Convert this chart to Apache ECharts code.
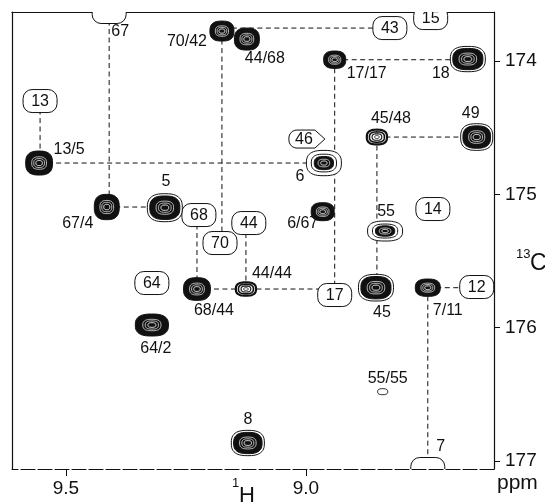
<!DOCTYPE html>
<html><head><meta charset="utf-8">
<script src="https://cdn.jsdelivr.net/npm/echarts@6/dist/echarts.min.js"></script>
<style>html,body{margin:0;padding:0;background:#fff}#c{width:545px;height:504px}</style>
</head><body><div id="c"></div>
<script>
// ---- Data (ppm) ----
const xTicks = [9.5, 9.0];            // 1H ppm
const yTicks = [174, 175, 176, 177];  // 13C ppm
const xRange = [8.608, 9.6125];
const yRange = [173.632, 177.06];

// cross peaks
const peakNames = ['13/5','67/4','5','70/42','44/68','17/17','18','45/48','49','6','6/67','55','68/44','44/44','45','7/11','64/2','55/55','8'];
const peakH = [9.556, 9.415, 9.294, 9.175, 9.123, 8.940, 8.6625, 8.852, 8.644, 8.9625, 8.965, 8.835, 9.227, 9.125, 8.854, 8.746, 9.321, 8.840, 9.121];
const peakC = [174.765, 175.095, 175.10, 173.775, 173.835, 173.99, 173.985, 174.57, 174.57, 174.765, 175.13, 175.275, 175.71, 175.71, 175.70, 175.70, 175.98, 176.48, 176.865];
// contour extent (ppm)
const peakWidthH = [0.056, 0.052, 0.073, 0.050, 0.052, 0.046, 0.073, 0.042, 0.067, 0.073, 0.048, 0.073, 0.056, 0.042, 0.073, 0.052, 0.069, 0.021, 0.069];
const peakWidthC = [0.18, 0.19, 0.21, 0.15, 0.165, 0.13, 0.19, 0.11, 0.20, 0.19, 0.135, 0.15, 0.17, 0.10, 0.20, 0.13, 0.165, 0.045, 0.19];
// contour level count: 0 single, 1 weak rings, 2 filled, 3 filled + halo, 4 small core + wide halo
const peakLevel = [2, 2, 3, 2, 2, 2, 3, 1, 3, 4, 2, 4, 2, 1, 3, 2, 2, 0, 3];

// assignment boxes
const boxNames = ['13','67','43','15','46','14','68','44','70','64','17','12','7'];
const boxH = [9.554, 9.410, 8.825, 8.740, 9.000, 8.7354, 9.223, 9.119, 9.179, 9.321, 8.940, 8.644, 8.746];
const boxC = [174.30, 173.632, 173.7525, 173.6775, 174.585, 175.11, 175.155, 175.215, 175.365, 175.665, 175.755, 175.695, 177.06];

// connectivity (from, to, direction); '#' marks a box
const connections = [
  ['#13','13/5','v'], ['13/5','6','h'], ['#67','67/4','v'], ['67/4','5','h'],
  ['70/42','#70','v'], ['#43','70/42','h'], ['44/44','#44','v'], ['68/44','#68','v'],
  ['68/44','#17','h'], ['17/17','#17','v'], ['17/17','18','h'], ['45/48','49','h'],
  ['45/48','45','v'], ['7/11','#12','h'], ['7/11','#7','v']
];

// ---- styling ----
const labelOffset = {
  '13/5':[30,-13], '67/4':[-29,17], '5':[1,-26], '70/42':[-35,11], '44/68':[18,20],
  '17/17':[32,14], '18':[-27,15], '45/48':[14,-18], '49':[-6,-23], '6':[-24,14],
  '6/67':[-20,12], '55':[1,-19], '68/44':[17,22], '44/44':[26,-15], '45':[6,25],
  '7/11':[20,23], '64/2':[4,24], '55/55':[5,-13], '8':[0,-23]
};
const boxTextOffset = { '67':[11,19], '7':[13,-23] };
const tagBoxes = { '46': true };
const FONT = '16px "Liberation Sans", Arial, sans-serif';
const NARROW = '"Liberation Sans Narrow", "Arial Narrow", "Liberation Sans", Arial, sans-serif';

const pos = {};
peakNames.forEach((n,i)=>pos[n]=[peakH[i], peakC[i]]);
boxNames.forEach((n,i)=>pos['#'+n]=[boxH[i], boxC[i]]);

const segData = connections.map(([a,b,d])=>{
  const p=pos[a], q=pos[b];
  return d==='v' ? [p[0],p[1],p[0],q[1]] : [p[0],p[1],q[0],p[1]];
});

function blob(cx, cy, rx, ry) {
  const pts=[]; const n=48;
  for(let k=0;k<n;k++){
    const t=k/n*Math.PI*2, c=Math.cos(t), s=Math.sin(t);
    pts.push([cx+rx*Math.sign(c)*Math.pow(Math.abs(c),0.75), cy+ry*Math.sign(s)*Math.pow(Math.abs(s),0.75)]);
  }
  return pts;
}
function poly(cx,cy,rx,ry,fill,stroke,lw){
  return {type:'polygon', shape:{points:blob(cx,cy,rx,ry)}, style:{fill:fill||'none', stroke:stroke||'none', lineWidth:lw||1}};
}
function tagPoints(cx,cy,w,h,r){
  const x0=cx-w/2, x1=cx+w/2, y0=cy-h/2, y1=cy+h/2, pts=[];
  pts.push([x1-8,y0],[x1+2,cy],[x1-8,y1]);
  for(let k=0;k<=6;k++){const t=Math.PI/2+k/6*Math.PI/2; pts.push([x0+r+r*Math.cos(t), y1-r+r*Math.sin(t)]);}
  for(let k=0;k<=6;k++){const t=Math.PI+k/6*Math.PI/2; pts.push([x0+r+r*Math.cos(t), y0+r+r*Math.sin(t)]);}
  return pts;
}

const chart = echarts.init(document.getElementById('c'));
chart.setOption({
  animation:false,
  backgroundColor:'#fff',
  grid:{left:12, right:51, top:12, bottom:35},
  xAxis:[{
    type:'value', inverse:true, min:xRange[0], max:xRange[1], position:'bottom',
    axisLine:{show:true, onZero:false, lineStyle:{color:'#111', width:1.2, type:[14,3]}},
    axisTick:{show:true, customValues:xTicks, length:7, inside:false, lineStyle:{color:'#111'}},
    axisLabel:{show:true, customValues:xTicks, formatter:v=>v.toFixed(1), margin:10,
      fontFamily:NARROW, fontSize:19, color:'#111'},
    splitLine:{show:false}
  },{
    type:'value', inverse:true, min:xRange[0], max:xRange[1], position:'top',
    axisLine:{show:true, onZero:false, lineStyle:{color:'#111', width:1.2}},
    axisTick:{show:false}, axisLabel:{show:false}, splitLine:{show:false}
  }],
  yAxis:[{
    type:'value', inverse:true, min:yRange[0], max:yRange[1], position:'right',
    axisLine:{show:true, onZero:false, lineStyle:{color:'#111', width:1.2}},
    axisTick:{show:true, customValues:yTicks, length:6, lineStyle:{color:'#111'}},
    axisLabel:{show:true, customValues:yTicks, formatter:v=>String(v), margin:11,
      fontFamily:NARROW, fontSize:19, color:'#111'},
    splitLine:{show:false}
  },{
    type:'value', inverse:true, min:yRange[0], max:yRange[1], position:'left',
    axisLine:{show:true, onZero:false, lineStyle:{color:'#111', width:1.2}},
    axisTick:{show:false}, axisLabel:{show:false}, splitLine:{show:false}
  }],
  graphic:[
    {type:'text', x:232, y:477, style:{text:'1', font:'13px "Liberation Sans", Arial, sans-serif', fill:'#111'}},
    {type:'text', x:239, y:485, style:{text:'H', font:'22px '+NARROW, fill:'#111'}},
    {type:'text', x:516, y:248, style:{text:'13', font:'13px "Liberation Sans", Arial, sans-serif', fill:'#111'}},
    {type:'text', x:530, y:252, style:{text:'C', font:'23px '+NARROW, fill:'#111'}},
    {type:'text', x:497, y:473, style:{text:'ppm', font:'21px "Liberation Sans", Arial, sans-serif', fill:'#111'}}
  ],
  series:[
    {
      type:'custom', name:'connections', clip:true, z:1,
      data:segData,
      renderItem:(params, api)=>{
        const a=api.coord([api.value(0),api.value(1)]), b=api.coord([api.value(2),api.value(3)]);
        return {type:'line', shape:{x1:a[0],y1:a[1],x2:b[0],y2:b[1]},
          style:{stroke:'#111', lineWidth:1, lineDash:[5,3.5]}};
      }
    },
    {
      type:'custom', name:'boxes', clip:true, z:2,
      data:boxNames.map((n,i)=>[boxH[i], boxC[i], i]),
      renderItem:(params, api)=>{
        const c=api.coord([api.value(0),api.value(1)]);
        const name=boxNames[api.value(2)];
        const off=boxTextOffset[name];
        const w=34, h=23;
        const kids=[];
        if(tagBoxes[name]){
          kids.push({type:'polygon', shape:{points:tagPoints(c[0],c[1],w,h-5,8)},
            style:{fill:'#fff', stroke:'#111', lineWidth:1}});
        } else {
          kids.push({type:'rect', shape:{x:c[0]-w/2, y:c[1]-h/2, width:w, height:h, r:9},
            style:{fill:'#fff', stroke:'#111', lineWidth:1}});
        }
        kids.push({type:'text', x:c[0]+(off?off[0]:0)-(tagBoxes[name]?2:0), y:c[1]+(off?off[1]:0)+1,
          style:{text:name, font:FONT, fill:'#111', align:'center', verticalAlign:'middle'}});
        return {type:'group', children:kids};
      }
    },
    {
      type:'custom', name:'peaks', clip:false, z:3,
      data:peakNames.map((n,i)=>[peakH[i], peakC[i], peakWidthH[i], peakWidthC[i], peakLevel[i], i]),
      renderItem:(params, api)=>{
        const c=api.coord([api.value(0),api.value(1)]);
        const sz=api.size([api.value(2),api.value(3)],[api.value(0),api.value(1)]);
        const rx=sz[0]/2, ry=sz[1]/2, lv=api.value(4), name=peakNames[api.value(5)];
        const k=[];
        if(lv===0){
          k.push(poly(c[0],c[1],rx,ry,'#fff','#111',1));
        } else if(lv===1){
          k.push(poly(c[0],c[1],rx,ry,'#fff','#111',2.2));
          k.push(poly(c[0],c[1],rx*0.74,ry*0.7,'none','#111',1.6));
          k.push(poly(c[0],c[1],rx*0.48,ry*0.44,'none','#111',1.1));
          k.push(poly(c[0],c[1],rx*0.22,ry*0.2,'none','#111',0.9));
        } else if(lv===2){
          k.push(poly(c[0],c[1],rx,ry,'#111','#111',1));
          k.push(poly(c[0],c[1],rx*0.55,ry*0.52,'none','#fff',0.7));
          k.push(poly(c[0],c[1],rx*0.4,ry*0.37,'none','#fff',0.7));
          k.push(poly(c[0],c[1],rx*0.24,ry*0.21,'#111','#fff',0.9));
        } else if(lv===3){
          k.push(poly(c[0],c[1],rx,ry,'#fff','#111',1));
          k.push(poly(c[0],c[1],rx*0.86,ry*0.84,'#111','#111',1));
          k.push(poly(c[0],c[1],rx*0.5,ry*0.47,'none','#fff',0.7));
          k.push(poly(c[0],c[1],rx*0.36,ry*0.33,'none','#fff',0.7));
          k.push(poly(c[0],c[1],rx*0.22,ry*0.19,'#111','#fff',0.9));
        } else {
          k.push(poly(c[0],c[1],rx,ry,'#fff','#111',1));
          k.push(poly(c[0],c[1],rx*0.72,ry*0.7,'none','#111',1));
          k.push(poly(c[0],c[1],rx*0.55,ry*0.52,'#111','#111',1));
          k.push(poly(c[0],c[1],rx*0.33,ry*0.3,'none','#fff',0.7));
          k.push(poly(c[0],c[1],rx*0.18,ry*0.16,'#111','#fff',0.9));
        }
        const o=labelOffset[name]||[0,-20];
        k.push({type:'text', x:c[0]+o[0], y:c[1]+o[1],
          style:{text:name, font:FONT, fill:'#111', align:'center', verticalAlign:'middle'}});
        return {type:'group', children:k};
      }
    }
  ]
});
</script></body></html>
